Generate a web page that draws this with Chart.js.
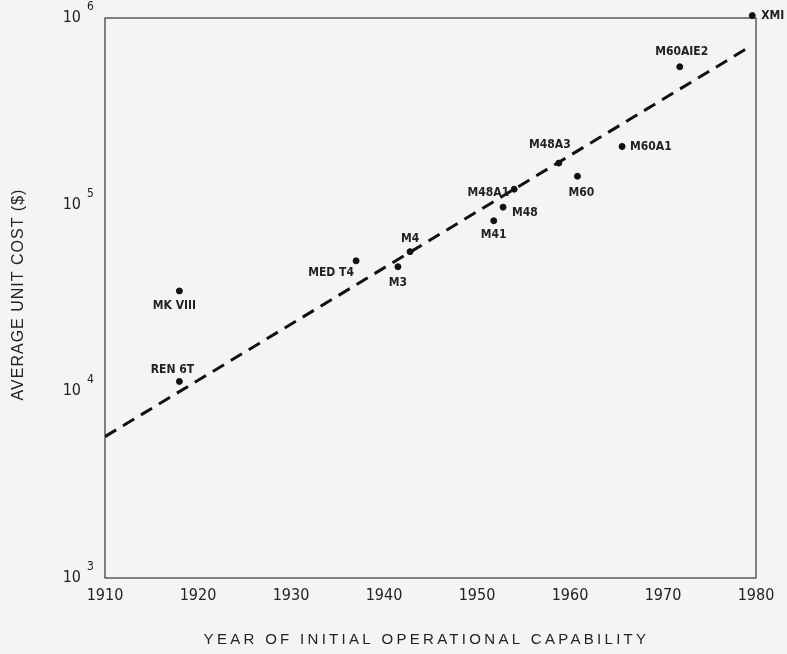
<!DOCTYPE html>
<html>
<head>
<meta charset="utf-8">
<script src="https://cdn.jsdelivr.net/npm/chart.js@4"></script>
<style>
    html, body { margin: 0; padding: 0; background: #f4f4f2; }
    #wrap { width: 787px; height: 654px; position: relative; }
</style>
</head>
<body>
<div id="wrap"><canvas id="costChart"></canvas></div>
<script>
// Tank unit cost vs year of initial operational capability
const tankNames = ['MK VIII', 'REN 6T', 'MED T4', 'M3', 'M4', 'M41', 'M48', 'M48A1', 'M48A3', 'M60', 'M60A1', 'M60AIE2', 'XMI'];
const tankYears = [1918, 1918, 1937, 1941.5, 1942.8, 1951.8, 1952.8, 1954, 1958.8, 1960.8, 1965.6, 1971.8, 1979.6];
const tankCosts = [34500, 11300, 50000, 46500, 56000, 82000, 97000, 121000, 167000, 142000, 205000, 548000, 1030000];

// fitted trend line (dashed)
const trendYears = [1910, 1979.3];
const trendCosts = [5720, 700000];

const xTicks = [1910, 1920, 1930, 1940, 1950, 1960, 1970, 1980];
const yTicks = [1000, 10000, 100000, 1000000];

const xTitle = 'YEAR OF INITIAL OPERATIONAL CAPABILITY';
const yTitle = 'AVERAGE UNIT COST ($)';

// where each label sits relative to its dot: [dx, dy, align]
const labelPlacement = [
    [-5, 15, 'center'], [-7, -12, 'center'], [-25, 12, 'center'], [0, 16, 'center'],
    [0, -13, 'center'], [0, 14, 'center'], [9, 6, 'left'], [-5, 4, 'right'],
    [-9, -18, 'center'], [4, 17, 'center'], [8, 0, 'left'], [2, -15, 'center'], [9, 0, 'left']
];

const condensed = "'Liberation Sans Narrow', 'DejaVu Sans Condensed', 'Roboto', sans-serif";
const plain = "'Liberation Sans', Arial, sans-serif";

const framePlugin = {
    id: 'frame',
    beforeDatasetsDraw(chart) {
        const a = chart.chartArea;
        const ctx = chart.ctx;
        ctx.save();
        ctx.strokeStyle = '#333';
        ctx.lineWidth = 1.2;
        ctx.strokeRect(a.left, a.top, a.right - a.left, a.bottom - a.top);
        ctx.restore();
    }
};

// exponents on the y tick labels and spaced-out axis titles
const axisText = {
    id: 'axisText',
    afterDraw(chart) {
        const ctx = chart.ctx;
        const y = chart.scales.y;
        const a = chart.chartArea;
        ctx.save();
        ctx.fillStyle = '#222';
        ctx.font = '12px ' + condensed;
        ctx.textAlign = 'left';
        ctx.textBaseline = 'middle';
        yTicks.forEach(function (v) {
            const py = y.getPixelForValue(v);
            ctx.fillText(String(Math.round(Math.log10(v))), a.left - 18, py - 11);
        });

        ctx.font = '15px ' + plain;
        ctx.textAlign = 'center';
        ctx.letterSpacing = '3.3px';
        ctx.fillText(xTitle, (a.left + a.right) / 2 - 4, 640);

        ctx.translate(19, 295);
        ctx.rotate(-Math.PI / 2);
        ctx.font = '16px ' + plain;
        ctx.letterSpacing = '1px';
        ctx.fillText(yTitle, 0.5, 0);
        ctx.restore();
    }
};

const tankLabels = {
    id: 'tankLabels',
    afterDatasetsDraw(chart) {
        const ctx = chart.ctx;
        const meta = chart.getDatasetMeta(1);
        ctx.save();
        ctx.font = "bold 12px " + condensed;
        ctx.fillStyle = '#222';
        ctx.textBaseline = 'middle';
        meta.data.forEach(function (pt, i) {
            const p = labelPlacement[i];
            ctx.textAlign = p[2];
            ctx.fillText(tankNames[i], pt.x + p[0], pt.y + p[1]);
        });
        ctx.restore();
    }
};

const ctx = document.getElementById('costChart').getContext('2d');
new Chart(ctx, {
    type: 'scatter',
    data: {
        datasets: [{
            type: 'line',
            data: trendYears.map((y, i) => ({ x: y, y: trendCosts[i] })),
            borderColor: '#111',
            borderWidth: 3,
            borderDash: [13, 8],
            pointRadius: 0,
            fill: false
        }, {
            data: tankYears.map((y, i) => ({ x: y, y: tankCosts[i] })),
            backgroundColor: '#111',
            borderColor: '#111',
            pointRadius: 3,
            clip: false
        }]
    },
    options: {
        responsive: true,
        maintainAspectRatio: false,
        animation: false,
        layout: { padding: { top: 18, right: 31, left: 0, bottom: 0 } },
        plugins: { legend: { display: false }, tooltip: { enabled: false } },
        scales: {
            x: {
                type: 'linear',
                min: 1910,
                max: 1980,
                afterBuildTicks: s => { s.ticks = xTicks.map(v => ({ value: v })); },
                afterFit: s => { s.height = 76; s.paddingLeft = 0; s.paddingRight = 0; },
                grid: { display: false, drawTicks: false },
                border: { display: false },
                ticks: {
                    color: '#222',
                    font: { family: condensed, size: 16 },
                    padding: 8,
                    maxRotation: 0,
                    callback: v => String(v)
                }
            },
            y: {
                type: 'logarithmic',
                min: 1000,
                max: 1000000,
                afterBuildTicks: s => { s.ticks = yTicks.map(v => ({ value: v })); },
                afterFit: s => { s.width = 105; s.paddingTop = 0; s.paddingBottom = 0; },
                grid: { display: false, drawTicks: false },
                border: { display: false },
                ticks: {
                    color: '#222',
                    font: { family: condensed, size: 16 },
                    padding: 24,
                    callback: () => '10'
                }
            }
        }
    },
    plugins: [framePlugin, tankLabels, axisText]
});
</script>
</body>
</html>
